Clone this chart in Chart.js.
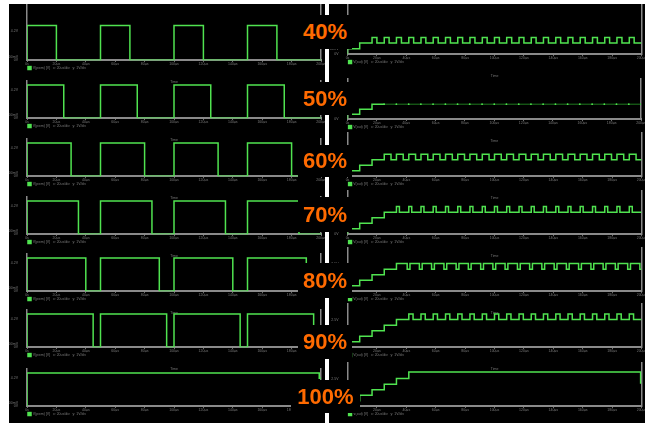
<!DOCTYPE html>
<html>
<head>
<meta charset="utf-8">
<script src="https://cdn.jsdelivr.net/npm/chart.js@4.4.1/dist/chart.umd.min.js"></script>
<style>
html, body { margin: 0; padding: 0; background: #fff; }
#stage { position: absolute; left: 9px; top: 4px; width: 636px; height: 419px; background: #000; overflow: hidden; }
#stage canvas { position: absolute; }
#rule { position: absolute; left: 316px; top: 0; width: 4px; height: 419px; background: #fff; }
.tag { position: absolute; background: #000; color: #ff6a00; font: bold 22px "Liberation Sans", Arial, sans-serif;
       display: flex; align-items: center; justify-content: center; z-index: 5; }
</style>
</head>
<body>
<div id="stage"><div id="rule"></div></div>
<script>
// duty cycle of each row
const dutyLabels = ['40%', '50%', '60%', '70%', '80%', '90%', '100%'];

// time axis (µs)
const timeTicks = [0, 20, 40, 60, 80, 100, 120, 140, 160, 180, 200];
const timeTickLabels = ['0s', '20µs', '40µs', '60µs', '80µs', '100µs', '120µs', '140µs', '160µs', '180µs', '200µs'];

// left column: PWM drive, [time µs, volts] at each edge
const pwm40 = [[0,0],[0,5],[20,0],[50,5],[70,0],[100,5],[120,0],[150,5],[170,0],[200,0]];
const pwm50 = [[0,0],[0,5],[25,0],[50,5],[75,0],[100,5],[125,0],[150,5],[175,0],[200,0]];
const pwm60 = [[0,0],[0,5],[30,0],[50,5],[80,0],[100,5],[130,0],[150,5],[180,0],[200,0]];
const pwm70 = [[0,0],[0,5],[35,0],[50,5],[85,0],[100,5],[135,0],[150,5],[185,0],[200,0]];
const pwm80 = [[0,0],[0,5],[40,0],[50,5],[90,0],[100,5],[140,0],[150,5],[190,0],[200,0]];
const pwm90 = [[0,0],[0,5],[45,0],[50,5],[95,0],[100,5],[145,0],[150,5],[195,0],[200,0]];
const pwm100 = [[0,0],[0,5],[198.8,4.2],[200,4.2]];
const pwmTicks = [0, 0.5, 4.2];
const pwmTickLabels = ['0V', '500mV', '4.2V'];

// right column: output staircase + ripple, [time µs, volts]
const out40 = [[0,0],[0,0.5],[8.3,1],[16.7,1.5],[20,1],[25,1.5],[28.3,1],[33.3,1.5],[36.7,1],[41.7,1.5],[45,1],
  [50,1.5],[53.3,1],[58.3,1.5],[61.7,1],[66.7,1.5],[70,1],[75,1.5],[78.3,1],[83.3,1.5],[86.7,1],[91.7,1.5],[95,1],
  [100,1.5],[103.3,1],[108.3,1.5],[111.7,1],[116.7,1.5],[120,1],[125,1.5],[128.3,1],[133.3,1.5],[136.7,1],
  [141.7,1.5],[145,1],[150,1.5],[153.3,1],[158.3,1.5],[161.7,1],[166.7,1.5],[170,1],[175,1.5],[178.3,1],
  [183.3,1.5],[186.7,1],[191.7,1.5],[195,1],[200,1]];
const out50 = [[0,0],[0,0.5],[8.3,1],[16.7,1.5],[25,1.5]];
const out50Flat = [[25,1.5],[33.3,1.5],[41.7,1.5],[50,1.5],[58.3,1.5],[66.7,1.5],[75,1.5],[83.3,1.5],[91.7,1.5],
  [100,1.5],[108.3,1.5],[116.7,1.5],[125,1.5],[133.3,1.5],[141.7,1.5],[150,1.5],[158.3,1.5],[166.7,1.5],
  [175,1.5],[183.3,1.5],[191.7,1.5],[200,1.5]];
const out60 = [[0,0],[0,0.5],[8.3,1],[16.7,1.5],[25,2],[29.6,1.5],[33.3,2],[37.9,1.5],[41.7,2],[46.3,1.5],
  [50,2],[54.6,1.5],[58.3,2],[62.9,1.5],[66.7,2],[71.3,1.5],[75,2],[79.6,1.5],[83.3,2],[87.9,1.5],[91.7,2],[96.3,1.5],
  [100,2],[104.6,1.5],[108.3,2],[112.9,1.5],[116.7,2],[121.3,1.5],[125,2],[129.6,1.5],[133.3,2],[137.9,1.5],
  [141.7,2],[146.3,1.5],[150,2],[154.6,1.5],[158.3,2],[162.9,1.5],[166.7,2],[171.3,1.5],[175,2],[179.6,1.5],
  [183.3,2],[187.9,1.5],[191.7,2],[196.3,1.5],[200,1.5]];
const out70 = [[0,0],[0,0.5],[8.3,1],[16.7,1.5],[25,2],[33.3,2.5],[35.3,2],[41.7,2.5],[43.7,2],[50,2.5],[52,2],
  [58.3,2.5],[60.3,2],[66.7,2.5],[68.7,2],[75,2.5],[77,2],[83.3,2.5],[85.3,2],[91.7,2.5],[93.7,2],[100,2.5],[102,2],
  [108.3,2.5],[110.3,2],[116.7,2.5],[118.7,2],[125,2.5],[127,2],[133.3,2.5],[135.3,2],[141.7,2.5],[143.7,2],
  [150,2.5],[152,2],[158.3,2.5],[160.3,2],[166.7,2.5],[168.7,2],[175,2.5],[177,2],[183.3,2.5],[185.3,2],
  [191.7,2.5],[193.7,2],[200,2]];
const out80 = [[0,0],[0,0.5],[8.3,1],[16.7,1.5],[25,2],[33.3,2.5],[40.6,2],[42.5,2.5],[48.9,2],[50.8,2.5],
  [57.2,2],[59.1,2.5],[65.6,2],[67.5,2.5],[73.9,2],[75.8,2.5],[82.2,2],[84.1,2.5],[90.6,2],[92.5,2.5],[98.9,2],
  [100.8,2.5],[107.2,2],[109.1,2.5],[115.6,2],[117.5,2.5],[123.9,2],[125.8,2.5],[132.2,2],[134.1,2.5],[140.6,2],
  [142.5,2.5],[148.9,2],[150.8,2.5],[157.2,2],[159.1,2.5],[165.6,2],[167.5,2.5],[173.9,2],[175.8,2.5],[182.2,2],
  [184.1,2.5],[190.6,2],[192.5,2.5],[198.9,2],[200,2]];
const out90 = [[0,0],[0,0.5],[8.3,1],[16.7,1.5],[25,2],[33.3,2.5],[41.7,3],[44.6,2.5],[50,3],[52.9,2.5],
  [58.3,3],[61.2,2.5],[66.7,3],[69.6,2.5],[75,3],[77.9,2.5],[83.3,3],[86.2,2.5],[91.7,3],[94.6,2.5],[100,3],
  [102.9,2.5],[108.3,3],[111.2,2.5],[116.7,3],[119.6,2.5],[125,3],[127.9,2.5],[133.3,3],[136.2,2.5],[141.7,3],
  [144.6,2.5],[150,3],[152.9,2.5],[158.3,3],[161.2,2.5],[166.7,3],[169.6,2.5],[175,3],[177.9,2.5],[183.3,3],
  [186.2,2.5],[191.7,3],[194.6,2.5],[200,2.5]];
const out100 = [[0,0],[0,0.5],[8.3,1],[16.7,1.5],[25,2],[33.3,2.5],[41.7,3.1],[199.4,2.1],[200,2.1]];
const outTicks = [0, 0.5, 2.5];
const outTickLabels = ['0V', '500mV', '2.5V'];

const pwmRows = [pwm40, pwm50, pwm60, pwm70, pwm80, pwm90, pwm100];
const outRows = [out40, out50, out60, out70, out80, out90, out100];

// layout (page pixels)
const leftAxisY = [66, 124, 182, 240, 297, 353, 412];
const rightAxisY = [60, 125, 182, 240, 297, 353, 412];
const leftPlotH = [62, 44, 44, 44, 44, 44, 44];
const rightPlotH = [56, 50, 50, 50, 50, 50, 50];
const tagBoxes = [[298, 15, 54, 34], [298, 82, 54, 33], [298, 145, 54, 32], [298, 197, 54, 35],
                  [298, 263, 54, 35], [298, 325, 54, 34], [291, 380, 69, 33]];

const GREEN = '#50e350', DIM = '#1f7a1f', AXIS = '#8a8a8a', TXT = '#7a7a7a';
Chart.defaults.font.family = '"Liberation Sans", Arial, sans-serif';

const stage = document.getElementById('stage');

function addCanvas(x, y, w, h) {
  const c = document.createElement('canvas');
  c.width = w; c.height = h;
  c.style.left = (x - 9) + 'px';
  c.style.top = (y - 4) + 'px';
  c.style.width = w + 'px';
  c.style.height = h + 'px';
  stage.appendChild(c);
  return c;
}

function trace(label, pts) {
  return {
    label: label,
    data: pts.map(p => ({ x: p[0], y: p[1] })),
    stepped: true,
    borderColor: GREEN,
    backgroundColor: GREEN,
    borderWidth: 1.5,
    pointRadius: 0,
    fill: false
  };
}

function scope(canvas, datasets, yMax, yTicks, yLabels, yW, y2W) {
  return new Chart(canvas, {
    type: 'line',
    data: { datasets: datasets },
    options: {
      responsive: false,
      animation: false,
      events: [],
      layout: { padding: 0 },
      plugins: {
        legend: {
          position: 'bottom', align: 'start', fullSize: false,
          labels: { boxWidth: 3, boxHeight: 3, padding: 1, color: TXT, font: { size: 3.5 },
                    filter: item => item.datasetIndex === 0 }
        },
        title: {
          display: true, position: 'bottom', fullSize: false, text: 'Time',
          color: TXT, font: { size: 3.5, weight: 'normal' }, padding: { top: 0, bottom: 0 }
        },
        tooltip: { enabled: false }
      },
      scales: {
        x: {
          type: 'linear', min: 0, max: 200,
          afterBuildTicks: s => { s.ticks = timeTicks.map(v => ({ value: v })); },
          ticks: { callback: (v, i) => timeTickLabels[i], autoSkip: false, maxRotation: 0,
                   color: TXT, font: { size: 3.5 }, padding: 0 },
          grid: { drawOnChartArea: false, tickLength: 1.5, color: AXIS },
          border: { color: AXIS, width: 2 },
          afterFit: s => { s.height = 5; s.paddingLeft = 0; s.paddingRight = 0; }
        },
        y: {
          min: 0, max: yMax,
          afterBuildTicks: s => { s.ticks = yTicks.map(v => ({ value: v })); },
          ticks: { callback: (v, i) => yLabels[i], color: TXT, font: { size: 3.5 }, padding: 1 },
          grid: { display: false },
          border: { color: AXIS, width: 1.5 },
          afterFit: s => { s.width = yW; s.paddingTop = 0; s.paddingBottom = 0; }
        },
        y2: {
          position: 'right', display: true,
          ticks: { display: false },
          grid: { display: false },
          border: { color: AXIS, width: 1.5 },
          afterFit: s => { s.width = y2W; }
        }
      }
    }
  });
}

const pwmPxPerVolt = 7.66;
const outPxPerVolt = 12.5;

pwmRows.forEach((rows, i) => {
  const h = leftPlotH[i];
  const c = addCanvas(9, leftAxisY[i] - h, 316, h + 18);
  scope(c, [trace('V(pwm) [V]   x: 20us/div   y: 1V/div', rows)],
        h / pwmPxPerVolt, pwmTicks, pwmTickLabels, 18, 4);
});

outRows.forEach((rows, i) => {
  const h = rightPlotH[i];
  const c = addCanvas(330, rightAxisY[i] - h, 315, h + 18);
  const sets = [trace('V(out) [V]   x: 20us/div   y: 1V/div', rows)];
  if (rows === out50) {
    const flat = trace('V(out) hold', out50Flat);
    flat.borderColor = DIM;
    flat.borderWidth = 1;
    flat.pointRadius = 0.9;
    flat.pointBorderWidth = 0;
    flat.pointBackgroundColor = GREEN;
    sets.push(flat);
  }
  scope(c, sets, h / outPxPerVolt, outTicks, outTickLabels, 17.5, 3.5);
});

dutyLabels.forEach((txt, i) => {
  const b = tagBoxes[i];
  const d = document.createElement('div');
  d.className = 'tag';
  d.style.left = (b[0] - 9) + 'px';
  d.style.top = (b[1] - 4) + 'px';
  d.style.width = b[2] + 'px';
  d.style.height = b[3] + 'px';
  d.textContent = txt;
  stage.appendChild(d);
});
</script>
</body>
</html>
